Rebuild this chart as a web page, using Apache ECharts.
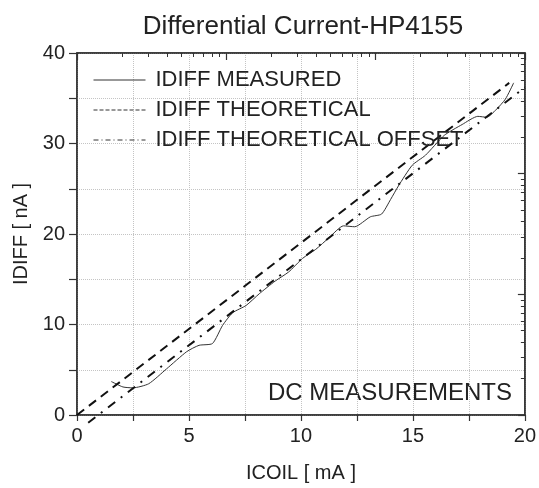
<!DOCTYPE html>
<html><head><meta charset="utf-8">
<script src="https://cdn.jsdelivr.net/npm/echarts@6/dist/echarts.min.js"></script>
<style>html,body{margin:0;padding:0;background:#fff}#c{width:539px;height:488px}</style>
</head><body><div id="c"></div>
<script>
const titleText = 'Differential Current-HP4155';
const xName = 'ICOIL [ mA ]';
const yName = 'IDIFF [ nA ]';
const note = 'DC MEASUREMENTS';
const seriesNames = ['IDIFF MEASURED', 'IDIFF THEORETICAL', 'IDIFF THEORETICAL OFFSET'];

const measuredX = [1.53, 2.05, 2.5, 3.2, 4.0, 4.9, 5.45, 6.05, 6.5, 6.95, 7.55, 8.14, 8.85, 9.45, 10.07, 10.66, 11.26, 11.9, 12.4, 13.1, 13.6, 14.0, 14.35, 14.97, 15.56, 16.4, 17.2, 17.9, 18.3, 18.7, 19.13, 19.5];
const measuredY = [3.7, 3.1, 3.0, 3.45, 5.1, 7.0, 7.7, 7.9, 9.9, 11.3, 12.1, 13.4, 14.8, 15.8, 17.3, 18.3, 19.6, 20.9, 20.8, 21.9, 22.2, 23.8, 25.3, 27.6, 28.7, 30.9, 32.1, 33.0, 32.9, 33.7, 34.9, 36.7];
const theoryX = [0, 19.3];
const theoryY = [0, 36.7];
const offsetX = [0.5, 20];
const offsetY = [-0.85, 36.2];

const xTicks = [0, 5, 10, 15, 20];
const yTicks = [0, 10, 20, 30, 40];

const FONT = 'Liberation Sans, Arial, sans-serif';
const AX = '#333';
const pairs = (xs, ys) => xs.map((x, i) => [x, ys[i]]);

const logAxis = (pos) => ({
  type: 'log', min: 1, max: 1000, logBase: 10, position: pos,
  axisLine: {show: true, onZero: false, lineStyle: {color: AX, width: 1.5}},
  axisTick: {show: true, inside: true, length: 7, lineStyle: {color: AX, width: 1.2}},
  minorTick: {show: true, splitNumber: 9, length: 4, lineStyle: {color: AX, width: 1}},
  axisLabel: {show: false}, splitLine: {show: false}, minorSplitLine: {show: false}
});
const hiddenSymbol = {opacity: 0, borderWidth: 0};

const chart = echarts.init(document.getElementById('c'));
chart.setOption({
  backgroundColor: '#fff',
  animation: false,
  title: {
    text: titleText, left: 298, top: 9, textAlign: 'center',
    textStyle: {fontFamily: FONT, fontSize: 26, fontWeight: 'normal', color: '#222'}
  },
  grid: {left: 77, right: 14, top: 53, bottom: 71, containLabel: false,
    show: true, borderColor: AX, borderWidth: 1.5, backgroundColor: 'transparent'},
  legend: {
    orient: 'vertical', left: 88, top: 64, itemWidth: 52, itemHeight: 22, itemGap: 8,
    textStyle: {fontFamily: FONT, fontSize: 22, color: '#222', padding: [0, 0, 0, 5]},
    itemStyle: hiddenSymbol,
    data: [
      {name: seriesNames[0], itemStyle: hiddenSymbol, lineStyle: {width: 1, color: '#333', type: 'solid'}},
      {name: seriesNames[1], itemStyle: hiddenSymbol, lineStyle: {width: 1, color: '#333', type: [4, 2]}},
      {name: seriesNames[2], itemStyle: hiddenSymbol, lineStyle: {width: 1, color: '#333', type: [5, 3, 1, 3]}}
    ]
  },
  xAxis: [{
    type: 'value', min: 0, max: 20, interval: 2.5, position: 'bottom',
    name: xName, nameLocation: 'middle', nameGap: 48,
    nameTextStyle: {fontFamily: FONT, fontSize: 20, color: '#222'},
    axisLine: {show: true, onZero: false, lineStyle: {color: AX, width: 1.5}},
    axisTick: {show: true, inside: false, length: 6, lineStyle: {color: AX, width: 1.2}},
    axisLabel: {fontFamily: FONT, fontSize: 20, color: '#222', margin: 11,
      formatter: v => xTicks.includes(v) ? String(v) : ''},
    splitLine: {show: true, lineStyle: {color: '#c4c4c4', type: 'dotted', width: 1}}
  }, logAxis('top')],
  yAxis: [{
    type: 'value', min: 0, max: 40, interval: 5, position: 'left',
    name: yName, nameLocation: 'middle', nameGap: 45, nameRotate: 90,
    nameTextStyle: {fontFamily: FONT, fontSize: 20, color: '#222'},
    axisLine: {show: true, onZero: false, lineStyle: {color: AX, width: 1.5}},
    axisTick: {show: true, inside: false, length: 8, lineStyle: {color: AX, width: 1.2}},
    axisLabel: {fontFamily: FONT, fontSize: 20, color: '#222', margin: 12,
      formatter: v => yTicks.includes(v) ? String(v) : ''},
    splitLine: {show: true, lineStyle: {color: '#c4c4c4', type: 'dotted', width: 1}}
  }, logAxis('right')],
  graphic: [{
    type: 'text', right: 27, top: 381,
    style: {text: note, font: '24px ' + FONT, fill: '#222'}
  }],
  series: [{
    name: seriesNames[0], type: 'line', symbol: 'none', smooth: 0.2,
    data: pairs(measuredX, measuredY), color: '#333',
    lineStyle: {color: '#333', width: 1}
  }, {
    name: seriesNames[1], type: 'line', symbol: 'none', color: '#111',
    data: pairs(theoryX, theoryY),
    lineStyle: {color: '#111', width: 2, type: [9, 6]}
  }, {
    name: seriesNames[2], type: 'line', symbol: 'none', clip: false, color: '#111',
    data: pairs(offsetX, offsetY),
    lineStyle: {color: '#111', width: 2, type: [9, 7, 2, 7]}
  }]
});
</script></body></html>
